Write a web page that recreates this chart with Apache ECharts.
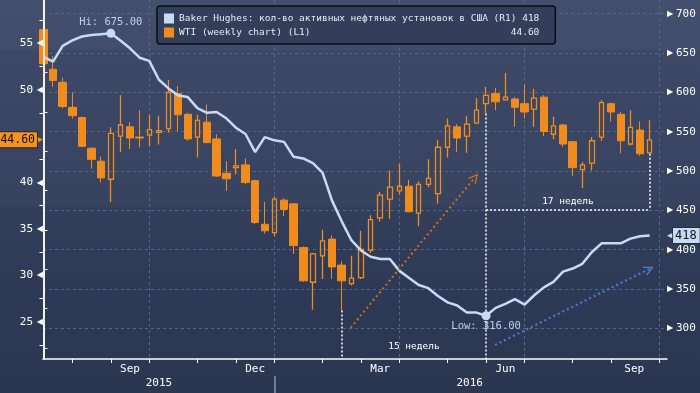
<!DOCTYPE html>
<html><head><meta charset="utf-8">
<script src="https://cdn.jsdelivr.net/npm/echarts@6/dist/echarts.min.js"></script>
<style>
html,body{margin:0;padding:0;}
#c{width:700px;height:393px;background:linear-gradient(to bottom,#434f6c 0%,#414d6a 12.5%,#3c4866 13%,#37435f 52%,#323e5a 53%,#2e3a55 75%,#2b3651 100%);}
</style>
</head><body><div id="c"></div>
<script>
// ---- data (weekly, Jul 2015 – Sep 2016) ----
const wtiOpen  = [56.5,52.2,50.8,48.1,47.0,43.7,42.3,40.35,45.0,46.0,44.9,45.1,45.4,45.8,49.6,47.35,44.9,46.5,44.7,41.0,41.6,41.9,40.2,35.5,34.6,38.1,37.7,33.0,29.25,32.1,33.9,31.1,29.1,29.75,32.7,36.2,38.2,39.1,39.6,36.7,39.8,38.8,43.8,46.0,45.0,46.4,48.5,49.6,48.9,49.0,48.5,47.9,49.2,45.2,46.2,44.4,41.4,42.1,44.9,48.5,47.35,44.15,45.65,43.2];
const wtiClose = [52.8,51.0,48.2,47.2,43.9,42.5,40.5,45.3,46.2,44.8,44.8,45.7,45.6,49.7,47.3,44.7,46.7,44.3,40.7,40.4,41.8,40.0,35.7,34.8,38.2,37.1,33.2,29.4,32.3,33.7,30.9,29.4,29.7,32.8,36.0,38.65,39.5,39.6,36.85,39.8,40.45,43.8,46.1,44.8,46.3,47.8,49.4,48.7,49.2,48.1,47.6,49.1,45.5,46.1,44.15,41.6,41.9,44.5,48.6,47.6,44.5,45.95,43.1,44.6];
const wtiLow   = [50.8,50.3,48.0,46.9,43.8,41.5,40.0,37.9,43.3,43.6,43.8,43.9,44.1,45.4,45.5,44.5,42.7,44.2,40.6,39.1,40.9,39.8,35.5,34.5,34.2,36.4,32.3,29.3,26.3,29.6,29.6,26.2,28.9,29.6,32.4,35.8,36.1,38.7,36.8,35.3,39.5,37.75,42.7,43.3,43.2,46.3,47.45,47.8,48.8,46.0,46.9,46.0,45.0,44.65,43.85,40.7,39.4,41.3,44.5,46.55,43.15,44.0,42.9,43.1];
const wtiHigh  = [56.6,53.6,51.3,49.7,47.1,43.8,42.8,45.95,49.4,46.5,47.8,47.3,47.2,51.05,50.4,47.5,47.3,48.4,45.2,42.3,43.6,42.6,40.3,37.9,38.5,38.3,37.8,33.1,32.4,34.9,34.3,31.5,32.1,34.8,36.5,39.0,41.3,42.0,40.3,40.1,42.5,44.6,46.9,46.3,47.2,49.1,50.3,50.2,51.8,49.2,50.6,50.1,49.4,47.1,46.3,44.5,42.2,44.9,48.9,48.6,47.6,47.8,46.6,46.7];
const rigCount = [645,639,659,666,671,673,674,675,666,656,644,640,616,605,596,594,580,574,575,567,555,547,524,543,539,537,518,516,510,498,462,436,412,399,391,388,388,373,364,355,351,341,333,329,320,320,316,326,331,337,330,342,352,359,372,376,382,397,408,408,408,414,417,418];

const nameBH  = 'Baker Hughes: кол-во активных нефтяных установок в США (R1)';
const nameWTI = 'WTI (weekly chart) (L1)';

// axis ticks / labels (positions in week index)
const monthTicks    = [3,7,11,16,20,24,29,33,37,42,46,50,55,59,64];
const monthLabelPos = [9,22,35,48,61.4];
const monthLabels   = ['Sep','Dec','Mar','Jun','Sep'];
const yearLabelPos  = [12,44.3];
const yearLabels    = ['2015','2016'];
const yearBreak     = [24];
const quarterGrid   = [11,24,37,50,64];
const leftLabels    = [25,30,35,40,50,55];
const leftMinor     = [22.5,27.5,32.5,37.5,42.5,47.5,52.5,57.5];
const rightLabels   = [300,350,400,450,500,550,600,650,700];
const rightMinor    = [275,325,375,425,475,525,575,625,675];

// annotations: week indices & levels
const startWeek = 31, lowWeek = 46, lastWeek = 63;
const bracketLevel = 37.1, textLevel15 = 21.5;
const orangeArrow = [[31.93,24.35],[44.85,40.56]];
const blueArrow   = [[46.93,278.8],[62.96,375.4]];

// ---- extents ----
const xExt = [-0.045, 64.8];
const yLExt = [20.98, 59.67];
const yRExt = [260.96, 717.4];

const mono = "'DejaVu Sans Mono', monospace";
const ORANGE = '#f08c1e';
const BLUE = '#c6dcf4';

const upData = [], downData = [];
wtiOpen.forEach((o, i) => {
  const item = [i, o, wtiClose[i], wtiLow[i], wtiHigh[i]];
  if (wtiClose[i] > o) upData.push(item); else downData.push(item);
});
const rigData = rigCount.map((v, i) => [i, v]);

const lastBH = String(rigCount[rigCount.length - 1]);
const lastWTI = wtiClose[wtiClose.length - 1].toFixed(2);
const W = Math.max(nameBH.length + 1 + lastBH.length, nameWTI.length + 1 + lastWTI.length);
function legendText(name) {
  const v = name === nameBH ? lastBH : lastWTI;
  return name + ' '.repeat(W - name.length - v.length) + v;
}

const whiteDot = {color: '#ffffff', width: 1.5, type: [2, 2], opacity: 1};
const chevron = 'path://M0,10 L5,0 L10,10 L8.6,10 L5,3 L1.4,10 Z';

const chart = echarts.init(document.getElementById('c'), null, {renderer: 'canvas'});
chart.setOption({
  backgroundColor: 'transparent',
  animation: false,
  grid: {left: 43, right: 33, top: 0, bottom: 34, containLabel: false, outerBoundsMode: 'none'},
  legend: {
    orient: 'vertical', left: 157, top: 6,
    padding: [7, 16, 6, 7],
    backgroundColor: '#323e5a', borderColor: '#0b0e14', borderWidth: 1.5, borderRadius: 3,
    itemWidth: 10, itemHeight: 10, itemGap: 3,
    selectedMode: false,
    textStyle: {color: '#e8ebf0', fontFamily: mono, fontSize: 9.5, lineHeight: 11},
    formatter: legendText,
    data: [
      {name: nameBH, icon: 'rect', itemStyle: {color: BLUE, borderWidth: 0}},
      {name: nameWTI, icon: 'rect', itemStyle: {color: ORANGE, borderWidth: 0}}
    ]
  },
  xAxis: [
    { type: 'value', position: 'bottom', min: xExt[0], max: xExt[1],
      axisLine: {show: true, lineStyle: {color: '#fff', width: 1.5}},
      axisTick: {show: true, customValues: monthTicks, length: 4, lineStyle: {color: '#fff', width: 1}},
      axisLabel: {show: true, customValues: monthLabelPos, margin: 5, color: '#fff', fontFamily: mono, fontSize: 11,
        formatter: v => monthLabels[monthLabelPos.indexOf(v)]},
      splitLine: {show: false} },
    { type: 'value', position: 'bottom', min: xExt[0], max: xExt[1],
      axisLine: {show: false}, axisTick: {show: false, customValues: quarterGrid}, axisLabel: {show: false},
      splitLine: {show: true, lineStyle: {color: '#4e6a86', type: [3, 3], width: 1}} },
    { type: 'value', position: 'bottom', offset: 17, min: xExt[0], max: xExt[1],
      axisLine: {show: false},
      axisTick: {show: true, customValues: yearBreak, length: 17, lineStyle: {color: '#8b95a8', width: 1.5}},
      axisLabel: {show: true, customValues: yearLabelPos, margin: 2, color: '#fff', fontFamily: mono, fontSize: 11,
        formatter: v => yearLabels[yearLabelPos.indexOf(v)]},
      splitLine: {show: false} }
  ],
  yAxis: [
    { type: 'value', position: 'left', min: yLExt[0], max: yLExt[1], z: 3,
      axisLine: {show: true, lineStyle: {color: '#fff', width: 1.5}},
      axisTick: {show: true, customValues: leftMinor, length: 4, lineStyle: {color: '#fff'}},
      axisLabel: {show: true, customValues: leftLabels, margin: 0,
        formatter: v => '{v|' + v + '}{t|◀}',
        rich: {v: {color: '#fff', fontFamily: mono, fontSize: 11, padding: [0, 3, 0, 0]},
               t: {color: '#fff', fontFamily: 'DejaVu Sans', fontSize: 8, width: 7}}},
      splitLine: {show: false} },
    { type: 'value', position: 'right', min: yRExt[0], max: yRExt[1],
      axisLine: {show: true, lineStyle: {color: '#fff', width: 1.5}},
      axisTick: {show: true, customValues: rightMinor, length: 4, lineStyle: {color: '#fff'}},
      axisLabel: {show: true, customValues: rightLabels, margin: 0,
        formatter: v => '{t|▶}{v|' + v + '}',
        rich: {v: {color: '#fff', fontFamily: mono, fontSize: 11, padding: [0, 0, 0, 2]},
               t: {color: '#fff', fontFamily: 'DejaVu Sans', fontSize: 8, width: 7}}},
      splitLine: {show: false} },
    { type: 'value', position: 'right', min: yRExt[0], max: yRExt[1],
      axisLine: {show: false}, axisTick: {show: false, customValues: rightLabels}, axisLabel: {show: false},
      splitLine: {show: true, lineStyle: {color: '#4e6a86', type: [3, 3], width: 1}} },
    { type: 'value', position: 'left', min: yLExt[0], max: yLExt[1], z: 3,
      axisLine: {show: false}, axisTick: {show: false},
      axisLabel: {show: true, customValues: [wtiClose[wtiClose.length - 1]], margin: 0,
        formatter: v => '{b|' + v.toFixed(2) + '}{t|▶}',
        rich: {b: {backgroundColor: '#f39323', color: '#111', fontFamily: mono, fontSize: 11.5,
                   padding: [2, 2, 1, 3], borderColor: '#2a2010', borderWidth: 0.8},
               t: {color: '#f39323', fontFamily: 'DejaVu Sans', fontSize: 9, width: 6}}},
      splitLine: {show: false} },
    { type: 'value', position: 'right', min: yRExt[0], max: yRExt[1],
      axisLine: {show: false}, axisTick: {show: false},
      axisLabel: {show: true, customValues: [rigCount[rigCount.length - 1]], margin: 0,
        formatter: v => '{t|◀}{b|' + v + '}',
        rich: {b: {backgroundColor: BLUE, color: '#111', fontFamily: mono, fontSize: 12,
                   padding: [2, 3, 1, 2], borderColor: '#20283a', borderWidth: 0.8},
               t: {color: BLUE, fontFamily: 'DejaVu Sans', fontSize: 9, width: 6}}},
      splitLine: {show: false} }
  ],
  series: [
    { name: nameWTI, type: 'candlestick', xAxisIndex: 0, yAxisIndex: 0,
      encode: {x: 0, y: [1, 2, 3, 4]}, data: downData, barWidth: 8,
      itemStyle: {color: ORANGE, color0: ORANGE, borderColor: ORANGE, borderColor0: ORANGE, borderWidth: 1},
      markLine: {
        silent: true, symbol: ['none', 'none'], animation: false,
        label: {show: false},
        lineStyle: whiteDot,
        data: [
          [{coord: [startWeek, wtiLow[startWeek]]}, {coord: [startWeek, yLExt[0]]}],
          [{coord: [lowWeek, wtiLow[lowWeek]]}, {coord: [lowWeek, yLExt[0]]}],
          [{coord: [lastWeek, wtiLow[lastWeek]]}, {coord: [lastWeek, bracketLevel]}],
          [{coord: [lowWeek, bracketLevel],
            label: {show: true, position: 'middle', distance: 3, formatter: (lastWeek - lowWeek) + ' недель',
                    color: '#fff', fontFamily: mono, fontSize: 9.5}},
           {coord: [lastWeek, bracketLevel]}],
          [{coord: [startWeek, textLevel15], lineStyle: {color: 'rgba(0,0,0,0)', width: 0},
            label: {show: true, position: 'middle', distance: 3, formatter: (lowWeek - startWeek) + ' недель',
                    color: '#fff', fontFamily: mono, fontSize: 9.5}},
           {coord: [lowWeek, textLevel15]}],
          [{coord: orangeArrow[0], lineStyle: {color: '#c8711e', width: 2, type: [2, 3]}},
           {coord: orangeArrow[1], symbol: chevron, symbolSize: [10, 10]}]
        ]
      } },
    { name: nameWTI, type: 'candlestick', xAxisIndex: 0, yAxisIndex: 0,
      encode: {x: 0, y: [1, 2, 3, 4]}, data: upData, barWidth: 5,
      itemStyle: {color: 'rgba(0,0,0,0)', color0: 'rgba(0,0,0,0)', borderColor: ORANGE, borderColor0: ORANGE, borderWidth: 1.3} },
    { name: nameBH, type: 'line', xAxisIndex: 0, yAxisIndex: 1,
      data: rigData, showSymbol: false, smooth: false,
      lineStyle: {color: BLUE, width: 2.5}, itemStyle: {color: BLUE},
      markPoint: {
        silent: true, symbol: 'circle', symbolSize: 9, itemStyle: {color: BLUE},
        label: {show: true, color: '#b8d2ee', fontFamily: mono, fontSize: 10.5,
                formatter: p => p.name + ': ' + Number(p.value).toFixed(2)},
        data: [
          {type: 'max', valueDim: 'y', name: 'Hi', label: {position: 'top', distance: 1}},
          {type: 'min', valueDim: 'y', name: 'Low', label: {position: 'bottom', distance: 1}}
        ]
      },
      markLine: {
        silent: true, symbol: ['none', 'none'], animation: false, label: {show: false},
        lineStyle: {color: '#4a7fd8', width: 2, type: [2, 3]},
        data: [[{coord: blueArrow[0]}, {coord: blueArrow[1], symbol: chevron, symbolSize: [10, 10]}]]
      } }
  ]
});
</script></body></html>
